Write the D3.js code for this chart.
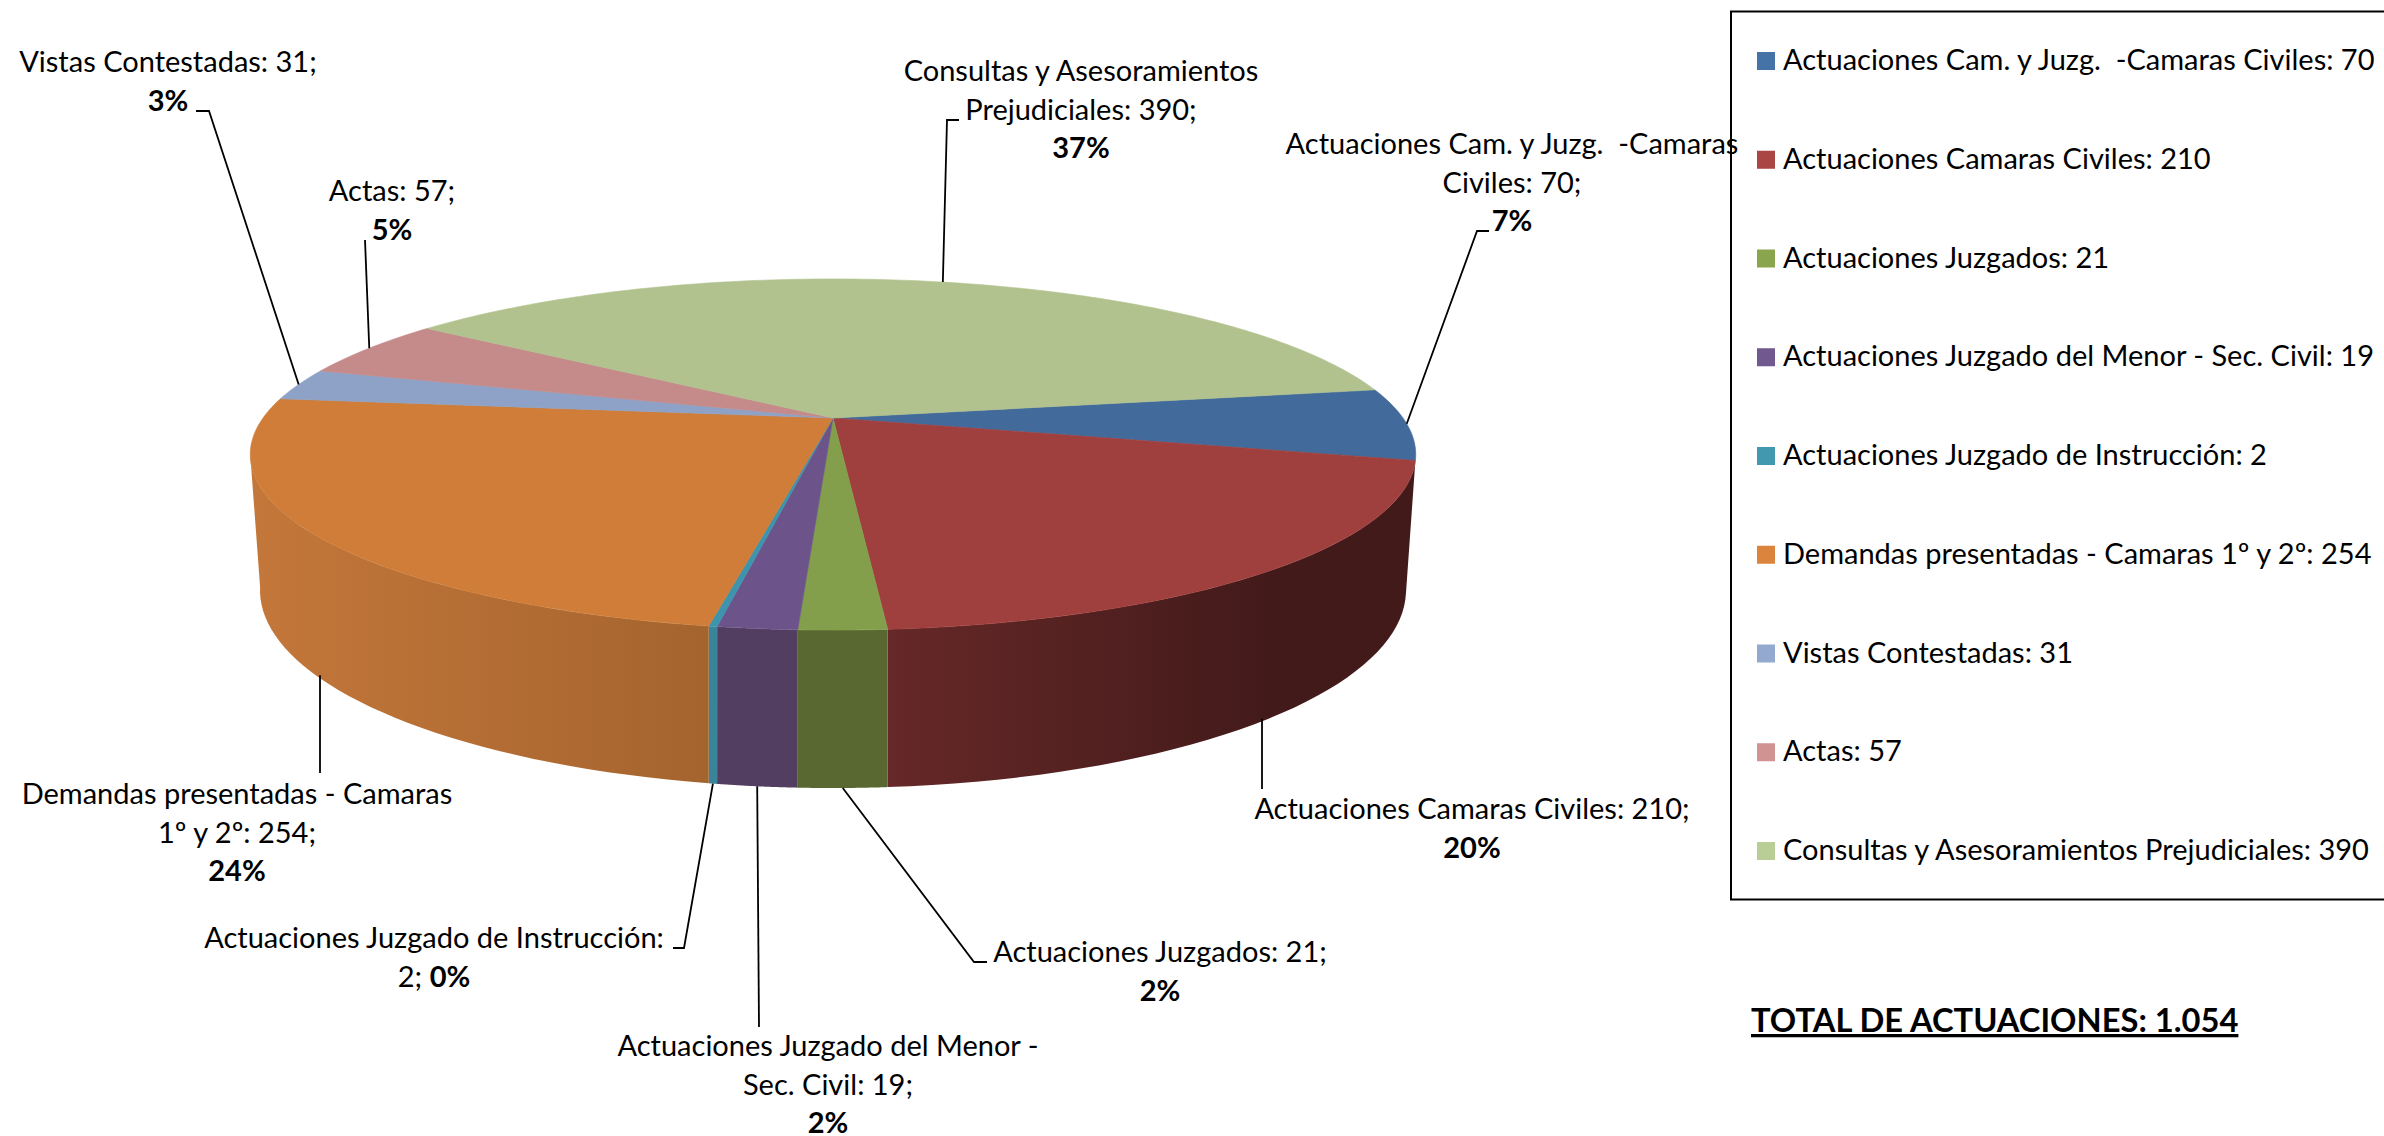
<!DOCTYPE html>
<html>
<head>
<meta charset="utf-8">
<script src="https://cdn.jsdelivr.net/npm/d3@7"></script>
<style>
  html, body { margin: 0; padding: 0; background: #fff; overflow: hidden; }
  text { font-family: Lato, "Open Sans", sans-serif; fill: #000; white-space: pre; }
</style>
</head>
<body>
<div id="chart"></div>
<script>
// data
const categories = [
  'Actuaciones Cam. y Juzg.  -Camaras Civiles',
  'Actuaciones Camaras Civiles',
  'Actuaciones Juzgados',
  'Actuaciones Juzgado del Menor - Sec. Civil',
  'Actuaciones Juzgado de Instrucción',
  'Demandas presentadas - Camaras 1º y 2º',
  'Vistas Contestadas',
  'Actas',
  'Consultas y Asesoramientos Prejudiciales'
];
const values = [70, 210, 21, 19, 2, 254, 31, 57, 390];
const totalLabel = 'TOTAL DE ACTUACIONES: 1.054';

// where the data labels wrap
const labelWraps = [
  ['Actuaciones Cam. y Juzg.  -Camaras'],
  [],
  [],
  ['Actuaciones Juzgado del Menor -'],
  ['Actuaciones Juzgado de Instrucción:'],
  ['Demandas presentadas - Camaras'],
  [],
  [],
  ['Consultas y Asesoramientos']
];

// colours
const topColors = ['#426b9c', '#a0403e', '#839f4b', '#6c5389', '#3d94ac', '#cf7d39', '#8da2c6', '#c58a8a', '#b1c28f'];
const legendColors = ['#4573a7', '#aa4643', '#89a54e', '#71588f', '#4198af', '#db843d', '#93a9cf', '#d19392', '#b9cd96'];
const sideFrom = ['#2f4f75', '#662828', '#586830', '#523e60', '#3a8499', '#c4773a', '#6a7a95', '#946767', '#85926b'];
const sideTo = ['#2f4f75', '#431a1a', '#586830', '#523e60', '#3a8499', '#a4642e', '#6a7a95', '#946767', '#85926b'];

const width = 2384;
const height = 1136;

// label layout: centre x, first baseline, then the elbow of the leader line
const labelX = [1512, 1472, 1160, 828, 434, 237, 168, 392, 1081];
const labelY = [154, 819, 962, 1056, 948, 804, 72, 201, 81];
const leaderElbow = [
  [[1489, 231], [1477, 231]],
  [[1262, 789]],
  [[987, 962], [974, 962]],
  [[759, 1027]],
  [[673, 948], [684, 948]],
  [[320, 773]],
  [[196, 111], [209, 111]],
  [[365, 240]],
  [[959, 120], [947, 120]]
];
const plumbLeaders = [1, 5]; // these drop straight down from the wall
const lineHeight = 38.6;
const fontSize = 29;

// top and bottom rim of the disc, as perspective views of a unit circle
const topRim = { cx: 833, cy: 418, a: 570, b: 168, p: 0.208 };
const bottomRim = { cx: 833, cy: 545.6, a: 558.4, b: 188, p: 0.2245 };
function project(rim, angle) {
  const u = Math.sin(angle), v = Math.cos(angle);
  const w = 1 + rim.p * v;
  return [rim.cx + rim.a * u / w, rim.cy - rim.b * v / w];
}

const deg = Math.PI / 180;
const total = d3.sum(values);
const percent = d => Math.round(d / total * 100) + '%';

const pie = d3.pie().sort(null).startAngle(80 * deg).endAngle(440 * deg);
const slices = pie(values);

const svg = d3.select('#chart').append('svg')
  .attr('width', width)
  .attr('height', height)
  .style('display', 'block');

const line = d3.line();
const defs = svg.append('defs');

// side walls, only the part of the disc facing the viewer
// (the rims turn round at about 102 and 258 degrees)
const frontStart = 104 * deg;
const frontEnd = 258 * deg;
const wallG = svg.append('g');
slices.forEach(function (s, i) {
  const a0 = Math.max(s.startAngle, frontStart);
  const a1 = Math.min(s.endAngle, frontEnd);
  if (a1 <= a0) return;
  const steps = d3.range(0, 41).map(k => a0 + (a1 - a0) * k / 40);
  const upper = steps.map(a => project(topRim, a));
  const lower = steps.map(a => project(bottomRim, a)).reverse();
  const xs = upper.concat(lower).map(p => p[0]);
  const gradId = 'wall' + i;
  const grad = defs.append('linearGradient')
    .attr('id', gradId)
    .attr('gradientUnits', 'userSpaceOnUse')
    .attr('x1', i === 1 ? d3.max(xs) : d3.min(xs))
    .attr('x2', i === 1 ? d3.min(xs) : d3.max(xs))
    .attr('y1', 0)
    .attr('y2', 0);
  if (i === 1) {
    // the red wall stays flat dark over its right third
    grad.append('stop').attr('offset', 0).attr('stop-color', sideTo[i]);
    grad.append('stop').attr('offset', 0.28).attr('stop-color', sideTo[i]);
    grad.append('stop').attr('offset', 1).attr('stop-color', sideFrom[i]);
  } else {
    grad.append('stop').attr('offset', 0).attr('stop-color', sideFrom[i]);
    grad.append('stop').attr('offset', 1).attr('stop-color', sideTo[i]);
  }
  wallG.append('path')
    .attr('d', line(upper.concat(lower)) + 'Z')
    .attr('fill', `url(#${gradId})`);
});

// top face
const topG = svg.append('g');
slices.forEach(function (s, i) {
  const n = Math.max(2, Math.ceil((s.endAngle - s.startAngle) / deg));
  const rim = d3.range(0, n + 1).map(k => project(topRim, s.startAngle + (s.endAngle - s.startAngle) * k / n));
  topG.append('path')
    .attr('d', line([[topRim.cx, topRim.cy]].concat(rim)) + 'Z')
    .attr('fill', topColors[i])
    .attr('stroke', topColors[i])
    .attr('stroke-width', 0.6);
});

// legend frame (runs off the right side of the picture)
const legendY = d3.scalePoint().domain(categories).range([61, 851]);
svg.append('rect')
  .attr('x', 1731)
  .attr('y', 11.5)
  .attr('width', 800)
  .attr('height', 888)
  .attr('fill', 'none')
  .attr('stroke', '#000')
  .attr('stroke-width', 2);

// leader lines start on the rim at the middle of each slice
const leaderG = svg.append('g');
slices.forEach(function (s, i) {
  const mid = (s.startAngle + s.endAngle) / 2;
  const rim = Math.cos(mid) < -0.3 ? bottomRim : topRim;
  const end = project(rim, mid);
  if (plumbLeaders.includes(i)) end[0] = leaderElbow[i][0][0];
  const pts = leaderElbow[i].concat([end]);
  leaderG.append('path')
    .attr('d', line(pts))
    .attr('fill', 'none')
    .attr('stroke', '#000')
    .attr('stroke-width', 1.8);
});

// data labels
const labelG = svg.append('g').attr('font-size', fontSize).attr('text-anchor', 'middle');
slices.forEach(function (s, i) {
  const full = `${categories[i]}: ${values[i]};`;
  const rows = [];
  let rest = full;
  labelWraps[i].forEach(function (w) {
    rows.push(w);
    rest = rest.slice(w.length).trim();
  });
  rows.push(rest);
  const t = labelG.append('text').attr('x', labelX[i]).attr('y', labelY[i]);
  rows.forEach(function (r, k) {
    t.append('tspan').attr('x', labelX[i]).attr('dy', k ? lineHeight : 0).text(r);
  });
  // the shortest label keeps its percent on the same row
  if (values[i] < 10) {
    t.append('tspan').text(' ');
    t.append('tspan').attr('font-weight', 700).text(percent(values[i]));
  } else {
    t.append('tspan').attr('x', labelX[i]).attr('dy', lineHeight).attr('font-weight', 700).text(percent(values[i]));
  }
});

// legend entries
const legend = svg.selectAll('.legend')
  .data(categories)
  .enter().append('g')
  .attr('class', 'legend')
  .attr('transform', d => 'translate(0,' + legendY(d) + ')');

legend.append('rect')
  .attr('x', 1757)
  .attr('y', -9)
  .attr('width', 18)
  .attr('height', 18)
  .attr('fill', (d, i) => legendColors[i]);

legend.append('text')
  .attr('x', 1783)
  .attr('y', 9)
  .attr('font-size', fontSize)
  .text((d, i) => `${d}: ${values[i]}`);

// total, under the legend
svg.append('text')
  .attr('x', 1751)
  .attr('y', 1032)
  .attr('font-size', 32.7)
  .attr('font-weight', 700)
  .attr('text-decoration', 'underline')
  .text(totalLabel);
</script>
</body>
</html>
